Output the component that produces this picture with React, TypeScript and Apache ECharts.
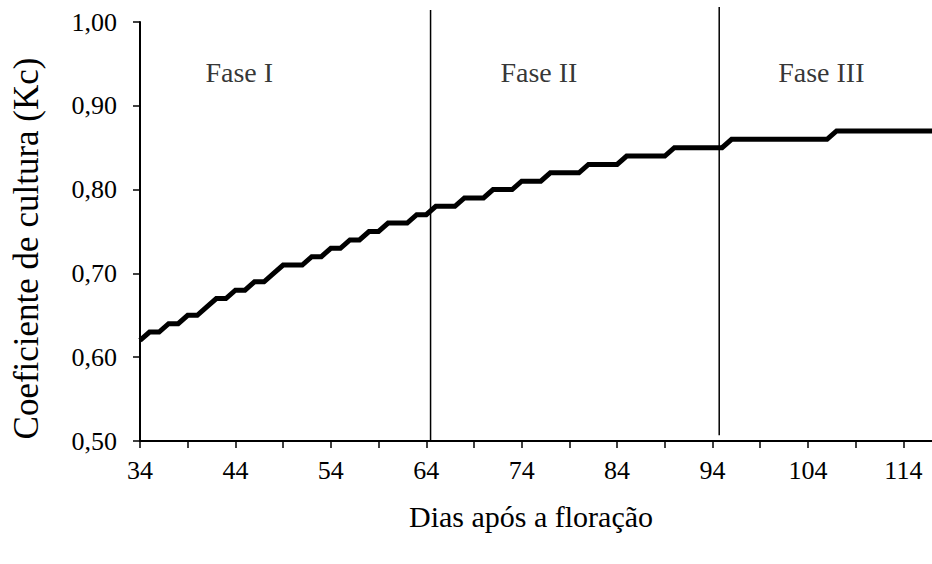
import React, { useEffect, useRef } from "react";
import * as echarts from "echarts";

// Days after flowering and crop coefficient (Kc), one value per day
const days: number[] = [];
for (let d = 34; d <= 117; d++) days.push(d);

const kcValues: number[] = [
  0.62, 0.63, 0.63, 0.64, 0.64, 0.65, 0.65, 0.66, 0.67, 0.67, // 34-43
  0.68, 0.68, 0.69, 0.69, 0.70, 0.71, 0.71, 0.71, 0.72, 0.72, // 44-53
  0.73, 0.73, 0.74, 0.74, 0.75, 0.75, 0.76, 0.76, 0.76, 0.77, // 54-63
  0.77, 0.78, 0.78, 0.78, 0.79, 0.79, 0.79, 0.80, 0.80, 0.80, // 64-73
  0.81, 0.81, 0.81, 0.82, 0.82, 0.82, 0.82, 0.83, 0.83, 0.83, // 74-83
  0.83, 0.84, 0.84, 0.84, 0.84, 0.84, 0.85, 0.85, 0.85, 0.85, // 84-93
  0.85, 0.85, 0.86, 0.86, 0.86, 0.86, 0.86, 0.86, 0.86, 0.86, // 94-103
  0.86, 0.86, 0.86, 0.87, 0.87, 0.87, 0.87, 0.87, 0.87, 0.87, // 104-113
  0.87, 0.87, 0.87, 0.87, // 114-117
];

// Phase boundaries (days) with their vertical extents (Kc units)
const phaseBoundaries = [
  { day: 64.45, from: 0.5, to: 1.0143 },
  { day: 94.7, from: 0.507, to: 1.0179 },
];

// Phase labels and their anchors (day, Kc)
const phaseLabels = [
  { name: "Fase I", day: 44.4, kc: 0.94 },
  { name: "Fase II", day: 75.8, kc: 0.94 },
  { name: "Fase III", day: 105.4, kc: 0.94 },
];

const xTickLabels = [34, 44, 54, 64, 74, 84, 94, 104, 114];
const yTicks = [0.5, 0.6, 0.7, 0.8, 0.9, 1.0];

const FONT = "Liberation Serif";

export default function App() {
  const ref = useRef<HTMLDivElement>(null);

  useEffect(() => {
    document.body.style.margin = "0";
    if (!ref.current) return;
    const chart = echarts.init(ref.current, null, { renderer: "svg" });

    const lineData = days.map((d, i) => [d, kcValues[i]]);

    const boundarySeries = phaseBoundaries.map((b) => ({
      type: "line" as const,
      data: [
        [b.day, b.from],
        [b.day, b.to],
      ],
      symbol: "none",
      clip: false,
      silent: true,
      lineStyle: { color: "#000", width: 1.5 },
      z: 1,
    }));

    chart.setOption({
      animation: false,
      backgroundColor: "#fff",
      textStyle: { fontFamily: FONT },
      grid: { left: 140, right: 0, top: 22, bottom: 123, containLabel: false },
      xAxis: {
        type: "value",
        min: 34,
        max: 117,
        interval: 5,
        name: "Dias após a floração",
        nameLocation: "middle",
        nameGap: 60,
        nameTextStyle: {
          fontFamily: FONT,
          fontSize: 30,
          color: "#000",
          padding: [0, 10, 0, 0],
        },
        axisLine: { show: true, lineStyle: { color: "#000", width: 2 } },
        axisTick: { show: true, inside: false, length: 7, lineStyle: { color: "#000", width: 1.5 } },
        axisLabel: {
          fontFamily: FONT,
          fontSize: 26,
          color: "#000",
          margin: 16,
          showMaxLabel: false,
          formatter: (v: number) => (xTickLabels.includes(v) ? String(v) : ""),
        },
        splitLine: { show: false },
      },
      yAxis: {
        type: "value",
        min: yTicks[0],
        max: yTicks[yTicks.length - 1],
        interval: 0.1,
        name: "Coeficiente de cultura (Kc)",
        nameLocation: "middle",
        nameGap: 96,
        nameTextStyle: {
          fontFamily: FONT,
          fontSize: 35,
          color: "#000",
          padding: [0, 34, 0, 0],
        },
        axisLine: { show: true, lineStyle: { color: "#000", width: 2 } },
        axisTick: { show: true, inside: false, length: 7, lineStyle: { color: "#000", width: 1.5 } },
        axisLabel: {
          fontFamily: FONT,
          fontSize: 26,
          color: "#000",
          margin: 23,
          formatter: (v: number) => v.toFixed(2).replace(".", ","),
        },
        splitLine: { show: false },
      },
      series: [
        ...boundarySeries,
        {
          type: "line",
          data: lineData,
          symbol: "none",
          lineStyle: { color: "#000", width: 5, join: "miter" },
          z: 3,
        },
        {
          type: "scatter",
          data: phaseLabels.map((p) => ({ name: p.name, value: [p.day, p.kc] })),
          symbolSize: 0,
          silent: true,
          label: {
            show: true,
            position: "inside",
            formatter: "{b}",
            fontFamily: FONT,
            fontSize: 28,
            color: "#000",
          },
          z: 4,
        },
      ],
    });

    return () => chart.dispose();
  }, []);

  return <div ref={ref} style={{ width: 932, height: 564 }} />;
}
